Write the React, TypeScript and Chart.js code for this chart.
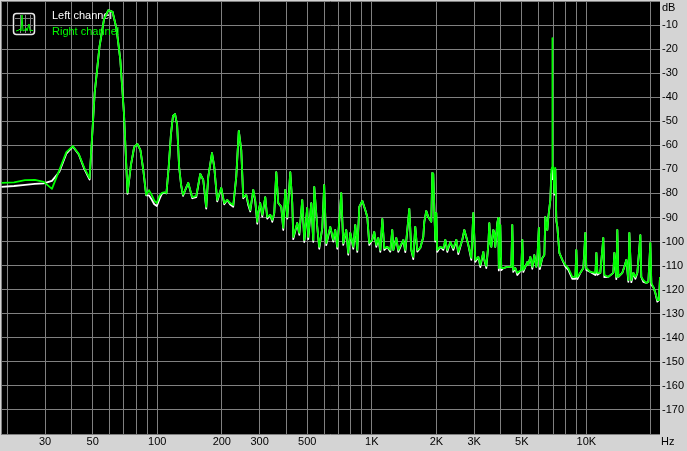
import React, { useEffect, useRef } from 'react';
import { Chart, registerables } from 'chart.js';

Chart.register(...registerables);

// Frequency grid (Hz) shared by both channels
const freqHz = [
  18.8, 21.5, 24.2, 26.9, 29.6, 32.3, 35.0, 37.7, 40.4, 43.1, 45.7, 48.4, 51.1, 53.8, 56.5, 59.2, 61.9, 64.6, 67.3, 70.0,
  72.7, 75.4, 78.1, 80.8, 83.5, 86.1, 88.8, 91.5, 94.2, 96.9, 99.6, 102.3, 105.0, 107.7, 110.4, 113.1, 115.8, 118.4, 121.1, 123.8,
  126.5, 129.2, 131.9, 135, 139.5, 145.6, 152, 158.7, 163.9, 169.2, 172.9, 180, 184.4, 190.4, 198.8, 205.3, 212, 218.9, 226.1, 233.5,
  240, 246.4, 251.7, 260, 265.6, 271.4, 280.3, 286.3, 292.6, 295.7, 302, 308.7, 318.8, 325.7, 336.4, 343.7, 351.2, 358.8, 366.6, 378.6,
  386.8, 395.2, 403.8, 417, 426, 430.6, 449.5, 459.3, 474.3, 484.6, 500, 505.8, 522.4, 533.7, 539.5, 557, 569, 587.9, 600, 613.7,
  640.6, 661.6, 675.9, 690.5, 720.8, 736.5, 760.6, 777.1, 794, 820, 837.8, 856, 874.5, 903.2, 932.7, 953, 973.6, 1005, 1027, 1050,
  1072, 1096, 1120, 1144, 1181, 1220, 1246, 1260, 1301, 1329, 1403, 1433, 1496, 1528, 1561, 1595, 1630, 1683, 1738, 1757,
  1795, 1834, 1894, 1915, 1935, 1977, 1999, 2020, 2086, 2155, 2202, 2249, 2323, 2399, 2478, 2531, 2642, 2700, 2758, 2818,
  2910, 2974, 3038, 3138, 3206, 3311, 3346, 3419, 3493, 3531, 3569, 3608, 3646, 3686, 3725, 3765, 3847, 3888, 3910, 3972,
  4015, 4102, 4282, 4374, 4470, 4518, 4567, 4666, 4768, 4977, 5031, 5086, 5196, 5309, 5366, 5483, 5602, 5724, 5848, 5911,
  6007, 6072, 6237, 6373, 6441, 6581, 6652, 6796, 6870, 6930, 6944, 6958, 7019, 7095, 7171, 7249, 7327, 7406, 7486, 7731,
  7984, 8245, 8607, 8888, 8984, 9081, 9378, 9685, 9895, 10002, 10440, 11020, 11140, 11260, 11620, 12000, 12130, 12670, 13360, 13510,
  13800, 13950, 14100, 14720, 15040, 15370, 15700, 15870, 16210, 16570, 16920, 17290, 17860, 18040, 18440, 19040, 19460, 19880, 20100, 20530,
  20980, 21430, 21800, 22050,
];

// Right channel level (dB)
const rightDb = [
  -75.6, -75.4, -74.5, -74.4, -75.2, -78.1, -70.2, -62.8, -60.3, -63.6, -69.4, -73.6, -38.2, -19.1, -7.5, -3.8, -4.5, -11.5, -24.5, -47,
  -79.6, -68.2, -60.7, -59.4, -62, -70.2, -80.6, -78.6, -80.6, -83, -84, -81, -79.8, -79.5, -79.8, -69, -55.7, -47.8, -47.0, -51.5,
  -69, -76.5, -80.6, -78.6, -75.6, -81.5, -81, -71.9, -74.4, -85.6, -73.1, -63.2, -69, -82.7, -77.7, -84, -82.7, -84, -84.8, -73.1,
  -54, -61.9, -81.5, -80.6, -84, -86.9, -78.5, -82.7, -91.8, -88.1, -84, -88.9, -81.5, -89.8, -88.9, -91, -88.1, -71.1, -84, -85.6,
  -94.3, -78.5, -89.8, -71.1, -84, -98.1, -92.3, -96.4, -82.7, -99.3, -86, -98.1, -84, -99.3, -77.3, -93.9, -102.2, -94.3, -76.5, -100.6,
  -93.9, -99.3, -95.2, -102.2, -79.8, -100.6, -95.2, -104.7, -96.4, -102.2, -93.1, -103.5, -85.6, -83.1, -86.9, -89.8, -100.6, -99.3, -96, -101.4,
  -98.5, -103.5, -90.6, -102.7, -102.2, -103.5, -95.2, -103.5, -98.5, -103.5, -99.3, -103.5, -86.4, -103.5, -106.4, -93.9, -103.5, -102.7, -98.1, -91.8,
  -87.3, -89.8, -91.8, -71.5, -71.9, -99.3, -88.1, -103.5, -102.2, -102.7, -99.3, -103.5, -100.2, -102.7, -99.3, -104.3, -99.3, -95.2, -98.1, -101.4,
  -106.8, -88.1, -107.6, -106.4, -109.7, -104.3, -107.6, -110.1, -101.4, -92.3, -100.6, -102.2, -98.5, -95.2, -96.4, -102.2, -92.3, -90.2, -111, -93.1,
  -111, -111, -110.5, -110.5, -110.5, -93.1, -111.8, -111, -113, -111.8, -99.3, -111.8, -110.5, -108.5, -109.7, -106.4, -110.5, -105.6, -110.5, -107.6,
  -94.3, -110.5, -106.8, -105.6, -89.8, -95.2, -89.8, -82.7, -70.2, -69, -15.4, -69, -69, -79.8, -69.4, -91, -93.9, -99.3, -104.7, -107.6,
  -109.7, -111, -114.7, -114.7, -103.5, -114.7, -113, -111, -96.4, -111, -112.6, -113, -104.7, -113, -113, -98.5, -113.9, -114.7, -113, -104.7,
  -114.7, -95.2, -114.7, -113, -110.5, -107.6, -116, -96.4, -116, -113, -114.7, -113, -97.3, -114.7, -116, -117.2, -116.8, -100.6, -117.2, -118.9,
  -121.4, -124.3, -124.3, -114.7,
];

// Left channel level (dB)
const leftDb = [
  -77.3, -76.9, -76.4, -76.0, -75.8, -74.8, -71.0, -63.5, -60.5, -63.8, -69.8, -74.2, -38.2, -19.1, -7.5, -3.8, -4.5, -11.5, -24.5, -47,
  -80.2, -68.2, -60.7, -59.4, -62, -70.2, -80.8, -80.8, -82.5, -84.5, -85.2, -82.5, -80.2, -79.7, -80, -69, -55.7, -47.8, -47.0, -51.5,
  -69, -76.5, -81, -78.6, -75.6, -82, -81.5, -71.9, -74.4, -86.3, -73.1, -63.2, -69, -83.3, -77.7, -84.5, -82.7, -84.6, -85.5, -73.1,
  -54, -61.9, -82, -80.6, -84.8, -87.5, -78.5, -83.3, -92.6, -88.1, -84, -89.6, -81.5, -90.5, -88.9, -91.8, -88.1, -71.1, -84, -85.6,
  -95.2, -78.5, -90.5, -71.1, -84, -99, -92.3, -97.2, -82.7, -100.2, -86, -99, -84, -100.1, -77.3, -93.9, -103, -94.3, -76.5, -101.5,
  -93.9, -100, -95.2, -103, -79.8, -101.4, -95.2, -105.5, -96.4, -103, -93.1, -104.3, -85.6, -83.1, -86.9, -89.8, -101.4, -99.3, -96, -102.2,
  -98.5, -104.3, -90.6, -103.5, -102.2, -104.2, -95.2, -103.5, -98.5, -104.3, -99.3, -104.4, -86.4, -103.5, -107.3, -93.9, -104.2, -102.7, -98.1, -91.8,
  -87.3, -89.8, -91.8, -71.5, -71.9, -100, -88.1, -104.3, -102.2, -103.5, -99.3, -104.3, -100.2, -103.5, -99.3, -105.2, -99.3, -95.2, -98.1, -101.4,
  -107.6, -88.1, -108.4, -106.4, -110.6, -104.3, -107.6, -111, -101.4, -92.3, -100.6, -102.2, -98.5, -95.2, -96.4, -102.2, -92.3, -90.2, -112, -93.1,
  -111.9, -111, -110.5, -110.5, -110.5, -93.1, -112.6, -111, -113.9, -111.8, -99.3, -112.6, -110.5, -108.5, -109.7, -106.4, -111.3, -105.6, -110.5, -107.6,
  -94.3, -111.4, -106.8, -105.6, -89.8, -95.2, -89.8, -82.7, -72, -71, -74, -71, -70, -80.5, -70, -91.5, -93.9, -99.3, -104.7, -107.6,
  -110.4, -111.8, -115.5, -115.5, -103.5, -115.6, -113, -111, -96.4, -111.8, -112.6, -113.9, -104.7, -113.8, -113, -98.5, -114.8, -114.7, -113, -104.7,
  -115.6, -95.2, -114.7, -113, -110.5, -107.6, -116.8, -96.4, -116.9, -113, -115.5, -113, -97.3, -114.7, -116.8, -117.2, -116.8, -100.6, -118, -118.9,
  -121.4, -125, -124.3, -114.7,
];

const seriesLabels = ['Left channel', 'Right channel'];
const seriesColors = ['#ffffff', '#00ff00'];

const xGridValues = [20, 30, 40, 50, 60, 70, 80, 90, 100, 200, 300, 400, 500, 600, 700, 800, 900,
  1000, 2000, 3000, 4000, 5000, 6000, 7000, 8000, 9000, 10000, 20000];
const xLabelValues = [30, 50, 100, 200, 300, 500, 1000, 2000, 3000, 5000, 10000];
const xLabelTexts = ['30', '50', '100', '200', '300', '500', '1K', '2K', '3K', '5K', '10K'];
const xUnit = 'Hz';
const yUnit = 'dB';

const FONT = "'Liberation Sans', Arial, sans-serif";

const decorPlugin = {
  id: 'decor',
  beforeDraw(chart: any) {
    const { ctx, chartArea: a, width, height } = chart;
    ctx.save();
    ctx.fillStyle = '#d4d4d4';
    ctx.fillRect(0, 0, width, height);
    ctx.fillStyle = '#000000';
    ctx.fillRect(a.left, a.top, a.right - a.left, a.bottom - a.top);
    ctx.restore();
  },
  beforeDatasetsDraw(chart: any) {
    const { ctx, chartArea: a } = chart;
    ctx.save();
    ctx.strokeStyle = '#808080';
    ctx.lineWidth = 1;
    ctx.beginPath();
    ctx.moveTo(a.left + 0.5, a.top);
    ctx.lineTo(a.left + 0.5, a.bottom);
    ctx.stroke();
    // legend icon
    const ix = 13, iy = 13, s = 22;
    ctx.fillStyle = '#000';
    ctx.fillRect(ix, iy, s, s);
    ctx.strokeStyle = '#808080';
    ctx.lineWidth = 1;
    ctx.beginPath();
    [20.5, 25.5, 30.5].forEach((x) => { ctx.moveTo(x, iy + 2); ctx.lineTo(x, iy + s - 2); });
    [18.5, 25.5].forEach((y) => { ctx.moveTo(ix + 2, y); ctx.lineTo(ix + s - 2, y); });
    ctx.stroke();
    ctx.strokeStyle = '#00ff00';
    ctx.beginPath();
    const icon = [[16, 31], [19, 30], [20, 29], [21, 31], [22, 15], [23, 31], [25, 30], [26, 28], [27, 31], [29, 24], [30, 31], [32, 30], [33, 31]];
    icon.forEach(([x, y], i) => (i ? ctx.lineTo(x, y) : ctx.moveTo(x, y)));
    ctx.stroke();
    ctx.strokeStyle = '#e8e8e8';
    ctx.lineWidth = 1.5;
    ctx.beginPath();
    (ctx as any).roundRect(ix + 0.5, iy + 0.5, s - 1, s - 1, 3);
    ctx.stroke();
    // legend text
    ctx.font = `11px ${FONT}`;
    ctx.textBaseline = 'alphabetic';
    ctx.textAlign = 'left';
    ctx.fillStyle = seriesColors[0];
    ctx.fillText(seriesLabels[0], 52, 19);
    ctx.fillStyle = seriesColors[1];
    ctx.fillText(seriesLabels[1], 52, 35);
    ctx.restore();
  },
  afterDraw(chart: any) {
    const { ctx, chartArea: a } = chart;
    ctx.save();
    ctx.font = `11px ${FONT}`;
    ctx.fillStyle = '#000';
    ctx.textAlign = 'left';
    ctx.textBaseline = 'middle';
    ctx.fillText(yUnit, a.right + 2, 8);
    ctx.fillText(xUnit, a.right + 1, 442);
    ctx.restore();
  },
};

export default function App() {
  const ref = useRef<HTMLCanvasElement>(null);

  useEffect(() => {
    document.body.style.margin = '0';
    const canvas = ref.current!;
    const chart = new Chart(canvas, {
      type: 'line',
      data: {
        datasets: [
          {
            label: seriesLabels[1],
            data: freqHz.map((f, i) => ({ x: f, y: rightDb[i] })),
            borderColor: seriesColors[1],
            borderWidth: 1.8,
            pointRadius: 0,
            tension: 0,
            fill: false,
            borderJoinStyle: 'round',
            order: 0,
          },
          {
            label: seriesLabels[0],
            data: freqHz.map((f, i) => ({ x: f, y: leftDb[i] })),
            borderColor: seriesColors[0],
            borderWidth: 1.8,
            pointRadius: 0,
            tension: 0,
            fill: false,
            borderJoinStyle: 'round',
            order: 1,
          },
        ],
      } as any,
      options: {
        animation: false,
        responsive: false,
        devicePixelRatio: 1,
        events: [],
        layout: { padding: { left: 1, top: 1, right: 0, bottom: 0 } },
        plugins: { legend: { display: false }, tooltip: { enabled: false } },
        scales: {
          x: {
            type: 'logarithmic',
            min: 18.7,
            max: 22050,
            afterBuildTicks: (s: any) => { s.ticks = xGridValues.map((v) => ({ value: v })); },
            afterFit: (s: any) => { s.height = 17; s.paddingLeft = 0; s.paddingRight = 0; },
            ticks: {
              autoSkip: false,
              maxRotation: 0,
              minRotation: 0,
              padding: 1,
              color: '#000',
              font: { family: FONT, size: 11 },
              callback: (v: any) => {
                const i = xLabelValues.indexOf(Number(v));
                return i >= 0 ? xLabelTexts[i] : '';
              },
            },
            grid: { color: '#808080', lineWidth: 1, drawTicks: false },
            border: { display: false },
          },
          y: {
            type: 'linear',
            position: 'right',
            min: -180,
            max: 0,
            afterFit: (s: any) => { s.width = 27; s.paddingTop = 0; s.paddingBottom = 0; },
            ticks: {
              stepSize: 10,
              padding: 2,
              color: '#000',
              font: { family: FONT, size: 11 },
              callback: (v: any) => (v === 0 || v === -180 ? '' : String(v)),
            },
            grid: { color: '#808080', lineWidth: 1, drawTicks: false },
            border: { display: false },
          },
        },
      } as any,
      plugins: [decorPlugin],
    });
    return () => chart.destroy();
  }, []);

  return (
    <div style={{ width: 687, height: 451 }}>
      <canvas ref={ref} width={687} height={451} style={{ display: 'block' }} />
    </div>
  );
}
